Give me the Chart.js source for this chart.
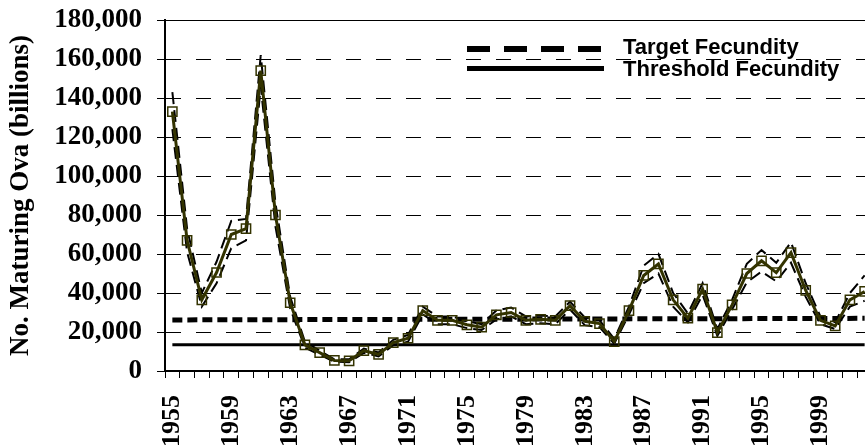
<!DOCTYPE html>
<html>
<head>
<meta charset="utf-8">
<script src="https://cdn.jsdelivr.net/npm/chart.js@4.4.0/dist/chart.umd.min.js"></script>
<style>
  html, body { margin: 0; padding: 0; background: #fff; overflow: hidden; }
  #wrap { width: 865px; height: 447px; overflow: hidden; }
</style>
</head>
<body>
<div id="wrap"><canvas id="chart" width="880" height="447"></canvas></div>
<script>
// years on the x axis
const years = [
  1955, 1956, 1957, 1958, 1959, 1960, 1961, 1962, 1963, 1964,
  1965, 1966, 1967, 1968, 1969, 1970, 1971, 1972, 1973, 1974,
  1975, 1976, 1977, 1978, 1979, 1980, 1981, 1982, 1983, 1984,
  1985, 1986, 1987, 1988, 1989, 1990, 1991, 1992, 1993, 1994,
  1995, 1996, 1997, 1998, 1999, 2000, 2001, 2002
];
const yearLabels = ['1955', '1959', '1963', '1967', '1971', '1975', '1979', '1983', '1987', '1991', '1995', '1999'];

// estimated maturing ova (billions)
const ova = [
  133000, 67000, 36500, 50500, 70000, 73000, 154000, 80000, 35000, 13400,
  9400, 5400, 5200, 10400, 8500, 14600, 16800, 31000, 26000, 26000,
  23700, 22500, 28800, 30000, 26000, 26500, 26000, 33500, 25500, 24300,
  15100, 31000, 49000, 54900, 36500, 27100, 42000, 19700, 33900, 50000,
  56500, 50400, 60700, 41300, 26000, 23100, 36500, 40800
];
const ovaUpper = [
  143000, 73000, 40000, 56000, 77000, 78000, 162000, 86000, 38000, 15000,
  10500, 6000, 6000, 11500, 9500, 16000, 18500, 33000, 28000, 28000,
  25500, 24000, 31000, 32500, 28000, 28500, 28000, 35500, 27500, 26000,
  16500, 33000, 54000, 60000, 40000, 29500, 45000, 21500, 36500, 55000,
  62000, 55500, 66000, 45000, 28000, 25000, 40000, 49000
];
const ovaLower = [
  124000, 61000, 33000, 45000, 63000, 67000, 146000, 74000, 32000, 12000,
  8300, 4800, 4500, 9300, 7500, 13200, 15000, 29000, 24000, 24000,
  22000, 21000, 26500, 28000, 24000, 24500, 24000, 31500, 23500, 22500,
  14000, 29000, 45000, 50000, 33000, 25000, 39000, 18000, 31500, 45500,
  51000, 46000, 55500, 38000, 24000, 21500, 33000, 36000
];

// reference levels, given at the first and last year
const targetEnds = [26200, 27000];
const thresholdEnds = [13500, 13500];

const legendLabels = ['Target Fecundity', 'Threshold Fecundity'];
const yTitle = 'No. Maturing Ova (billions)';

function endsOnly(ends) {
  const arr = years.map(() => null);
  arr[0] = ends[0];
  arr[years.length - 1] = ends[1];
  return arr;
}

const legendPlugin = {
  id: 'fecLegend',
  afterDraw(chart) {
    const ctx = chart.ctx;
    ctx.save();
    ctx.strokeStyle = '#000';
    ctx.lineCap = 'butt';
    ctx.lineWidth = 6;
    ctx.setLineDash([23, 14]);
    ctx.beginPath();
    ctx.moveTo(467, 49);
    ctx.lineTo(604, 49);
    ctx.stroke();
    ctx.setLineDash([]);
    ctx.lineWidth = 5;
    ctx.beginPath();
    ctx.moveTo(467, 68.5);
    ctx.lineTo(604, 68.5);
    ctx.stroke();
    ctx.fillStyle = '#000';
    ctx.font = 'bold 22px "Liberation Sans", Arial, sans-serif';
    ctx.textBaseline = 'alphabetic';
    ctx.fillText(legendLabels[0], 623, 54);
    ctx.fillText(legendLabels[1], 623, 76);
    ctx.restore();
  }
};

const serif = '"Liberation Serif", "Times New Roman", serif';

new Chart(document.getElementById('chart'), {
  type: 'line',
  data: {
    labels: years,
    datasets: [
      {
        label: 'Maturing ova',
        data: ova,
        borderColor: '#333300',
        borderWidth: 3,
        pointStyle: 'rect',
        pointRadius: 6.5,
        pointBorderWidth: 1.5,
        pointBorderColor: '#333300',
        pointBackgroundColor: 'rgba(0,0,0,0)',
        tension: 0,
        order: 0
      },
      {
        label: 'Upper',
        data: ovaUpper,
        borderColor: '#000',
        borderWidth: 2,
        borderDash: [12, 6],
        pointRadius: 0,
        tension: 0,
        order: 1
      },
      {
        label: 'Lower',
        data: ovaLower,
        borderColor: '#000',
        borderWidth: 2,
        borderDash: [12, 6],
        pointRadius: 0,
        tension: 0,
        order: 1
      },
      {
        label: legendLabels[0],
        data: endsOnly(targetEnds),
        borderColor: '#000',
        borderWidth: 5,
        borderDash: [10, 5],
        borderCapStyle: 'butt',
        pointRadius: 0,
        spanGaps: true,
        order: 2
      },
      {
        label: legendLabels[1],
        data: endsOnly(thresholdEnds),
        borderColor: '#000',
        borderWidth: 3,
        pointRadius: 0,
        spanGaps: true,
        order: 2
      }
    ]
  },
  options: {
    responsive: false,
    animation: false,
    layout: { padding: { top: 20, right: 8, left: 0, bottom: 0 } },
    plugins: {
      legend: { display: false },
      tooltip: { enabled: false }
    },
    scales: {
      x: {
        offset: true,
        afterFit(scale) {
          scale.height = 76;
          scale.paddingLeft = 0;
          scale.paddingRight = 0;
        },
        grid: {
          offset: true,
          drawOnChartArea: false,
          drawTicks: true,
          tickLength: 7,
          color: '#000',
          lineWidth: 1
        },
        border: { display: true, color: '#000', width: 2 },
        ticks: {
          autoSkip: false,
          maxRotation: 90,
          minRotation: 90,
          padding: 17,
          color: '#000',
          font: { family: serif, size: 26, weight: 'bold' },
          callback: (v, i) => yearLabels.includes(String(years[i])) ? String(years[i]) : ''
        }
      },
      y: {
        min: 0,
        max: 180000,
        afterFit(scale) {
          scale.width = 165;
          scale.paddingTop = 0;
          scale.paddingBottom = 0;
        },
        grid: {
          color: '#000',
          lineWidth: 1,
          tickLength: 8
        },
        border: {
          display: true,
          color: '#000',
          width: 2,
          dash: (ctx) => (ctx.tick && ctx.tick.value === 180000) ? [] : [15, 15]
        },
        ticks: {
          stepSize: 20000,
          padding: 15,
          color: '#000',
          font: { family: serif, size: 27, weight: 'bold' },
          callback: (v) => v.toLocaleString('en-US')
        },
        title: {
          display: true,
          text: yTitle,
          color: '#000',
          padding: { top: 5, bottom: 0 },
          font: { family: serif, size: 27, weight: 'bold' }
        }
      }
    }
  },
  plugins: [legendPlugin]
});
</script>
</body>
</html>
